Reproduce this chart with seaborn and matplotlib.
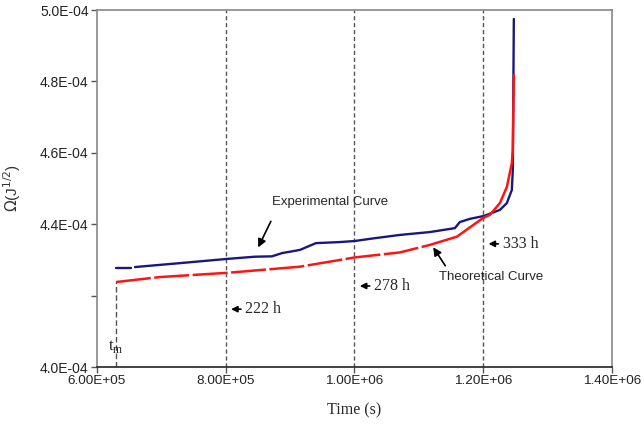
import numpy as np
import pandas as pd
import matplotlib
matplotlib.use("Agg")
import matplotlib.pyplot as plt
import seaborn as sns

# ---- data (time in s, Omega in J^1/2) ----
exp_t_a = [629500, 652800]
exp_v_a = [4.277e-4, 4.277e-4]
exp_t_b = [659000, 728900, 803500, 845400, 871800, 887300, 915300, 940100,
           977400, 1000700, 1024000, 1070600, 1117100, 1156000, 1163700,
           1179300, 1201000, 1225900, 1236700, 1244500, 1246000, 1247600]
exp_v_b = [4.280e-4, 4.291e-4, 4.303e-4, 4.309e-4, 4.310e-4, 4.319e-4,
           4.328e-4, 4.347e-4, 4.350e-4, 4.353e-4, 4.359e-4, 4.370e-4,
           4.378e-4, 4.389e-4, 4.406e-4, 4.415e-4, 4.423e-4, 4.440e-4,
           4.459e-4, 4.496e-4, 4.552e-4, 4.975e-4]
theo_t = [629500, 697800, 803500, 915300, 1000700, 1070600, 1117100,
          1159100, 1199500, 1210300, 1225900, 1236700, 1244500, 1246000,
          1247600]
theo_v = [4.238e-4, 4.252e-4, 4.264e-4, 4.281e-4, 4.307e-4, 4.321e-4,
          4.342e-4, 4.365e-4, 4.417e-4, 4.426e-4, 4.459e-4, 4.504e-4,
          4.571e-4, 4.608e-4, 4.818e-4]
t_m = 629500
marker_times = [8.0e5, 1.0e6, 1.2e6]
marker_labels = ["222 h", "278 h", "333 h"]
x_ticks = [6.0e5, 8.0e5, 1.0e6, 1.2e6, 1.4e6]
x_tick_labels = ["6.00E+05", "8.00E+05", "1.00E+06", "1.20E+06", "1.40E+06"]
y_ticks = [4.0e-4, 4.2e-4, 4.4e-4, 4.6e-4, 4.8e-4, 5.0e-4]
y_tick_labels = ["4.0E-04", "", "4.4E-04", "4.6E-04", "4.8E-04", "5.0E-04"]

sns.set_style("ticks")
plt.rcParams['font.family'] = ['Liberation Sans', 'DejaVu Sans']

fig = plt.figure(figsize=(6.44, 4.24), dpi=100)
ax = fig.add_axes([0.1506, 0.1344, 0.7996, 0.8420])

blue = "#1a1880"
red = "#ff1414"

sns.lineplot(x=exp_t_a, y=exp_v_a, ax=ax, color=blue, linewidth=1.7,
             sort=False, estimator=None)
sns.lineplot(x=exp_t_b, y=exp_v_b, ax=ax, color=blue, linewidth=1.7,
             sort=False, estimator=None)
n_dash = 7
sns.lineplot(x=theo_t[:n_dash], y=theo_v[:n_dash], ax=ax, color=red, linewidth=1.8,
             sort=False, estimator=None)
ax.lines[-1].set_dashes((14, 1.4))
sns.lineplot(x=theo_t[n_dash - 1:], y=theo_v[n_dash - 1:], ax=ax, color=red,
             linewidth=1.8, sort=False, estimator=None)

for xt in marker_times:
    ax.axvline(xt, color="#555555", linestyle=(0, (3, 2)), linewidth=1.0, zorder=1)
ax.vlines(t_m, 4.0e-4, theo_v[0], color="#555555", linestyle=(0, (4, 2)), linewidth=1.0)

ax.set_xlim(6.0e5, 1.4e6)
ax.set_ylim(4.0e-4, 5.0e-4)
ax.set_xticks(x_ticks)
ax.set_xticklabels(x_tick_labels, fontsize=9.7, color="#222222")
ax.set_yticks(y_ticks)
ax.set_yticklabels(y_tick_labels, fontsize=10, color="#222222")
ax.tick_params(axis="both", direction="out", length=4, width=1, color="#555555", pad=2)

for s in ax.spines.values():
    s.set_color("#888888")
    s.set_linewidth(1.2)
ax.spines["bottom"].set_color("#222222")

ax.set_xlabel("Time (s)", family=["Liberation Serif"], fontsize=11.5, labelpad=11)
ax.set_ylabel(r"$\Omega$(J$^{1/2}$)", fontsize=11, labelpad=12, color="#333333")

ax.text(6.30e5, 4.058e-4, r"t$_{\mathregular{m}}$", family=["Liberation Serif"],
        fontsize=12, ha="center", va="center")

# curve annotations
ax.text(9.62e5, 4.462e-4, "Experimental Curve", fontsize=9.5, ha="center", va="center")
ax.annotate("", xy=(8.485e5, 4.328e-4), xytext=(8.72e5, 4.415e-4),
            arrowprops=dict(arrowstyle="-|>", color="black", lw=1.2, mutation_scale=12))
ax.text(1.212e6, 4.252e-4, "Theoretical Curve", fontsize=9.5, ha="center", va="center")
ax.annotate("", xy=(1.120e6, 4.342e-4), xytext=(1.1435e6, 4.277e-4),
            arrowprops=dict(arrowstyle="-|>", color="black", lw=1.2, mutation_scale=12))

# hour markers
hour_y = [4.162e-4, 4.227e-4, 4.345e-4]
for xt, lab, yy in zip(marker_times, marker_labels, hour_y):
    ax.annotate("", xy=(xt + 0.004e6, yy), xytext=(xt + 0.028e6, yy),
                arrowprops=dict(arrowstyle="-|>", color="black", lw=1.2, mutation_scale=9))
    ax.text(xt + 0.030e6, yy, lab, family=["Liberation Serif"], fontsize=11.5,
            ha="left", va="center")

fig.savefig("out.png", dpi=100)
